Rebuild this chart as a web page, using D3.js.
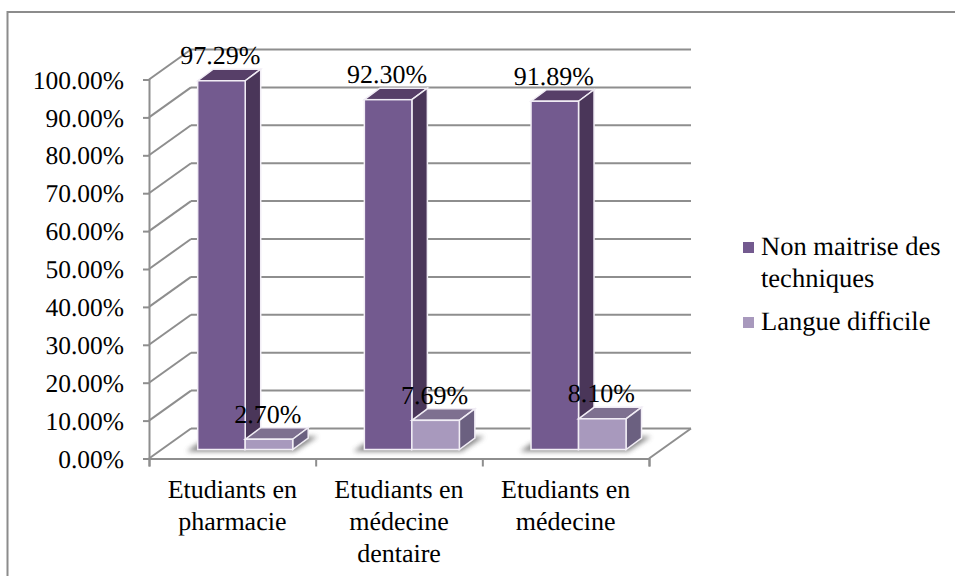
<!DOCTYPE html>
<html>
<head>
<style type="text/css">
html, body { margin: 0; padding: 0; background: #fff; }
svg { display: block; }
text { font-family: "Liberation Serif", serif; fill: #000; text-rendering: geometricPrecision; }
.tick-label { font-size: 25.5px; }
.cat-label { font-size: 26px; }
.val-label { font-size: 26px; }
.legend-label { font-size: 26.5px; }
.axisline { stroke: #8e8e8e; stroke-width: 2; fill: none; }
</style>
<script src="https://d3js.org/d3.v7.min.js"></script>
</head>
<body>
<script type="text/javascript">
var width = 955;
var height = 576;

var categories = [
	["Etudiants en", "pharmacie"],
	["Etudiants en", "médecine", "dentaire"],
	["Etudiants en", "médecine"]
];
var seriesNames = [["Non maitrise des", "techniques"], ["Langue difficile"]];
var nonMaitrise = [97.29, 92.30, 91.89];
var langueDifficile = [2.70, 7.69, 8.10];
var valueTicks = [0, 10, 20, 30, 40, 50, 60, 70, 80, 90, 100];

// colours of a bar: front, top, side
var shades = [
	{ front: "#735a8f", top: "#573f68", side: "#4a3659" },
	{ front: "#a899bd", top: "#7e7090", side: "#6b6080" }
];

// projection of the box
var wallDx = 42, wallDy = -30;
var barDx = 15.5, barDy = -11.5;
var baseShift = -9;

var x = d3.scaleBand().domain(d3.range(categories.length)).range([149, 649]);
var y = d3.scaleLinear().domain([0, 100]).range([458.5, 79.5]);
var barBase = y(0) + baseShift;

var svg = d3.select("body").append("svg").attr("width", width).attr("height", height);

var defs = svg.append("defs");
defs.append("filter").attr("id", "soft").attr("x", "-30%").attr("y", "-100%").attr("width", "160%").attr("height", "300%")
	.append("feGaussianBlur").attr("stdDeviation", 2.5);

// outer frame, only top and left edges show
svg.append("path").attr("d", "M7.5," + height + "V12H" + width)
	.attr("fill", "none").attr("stroke", "#8c8c8c").attr("stroke-width", 2);

// back wall gridlines and the diagonals on the side wall
valueTicks.forEach(function(v) {
	svg.append("line").attr("class", "axisline")
		.attr("x1", 149 + wallDx).attr("y1", y(v) + wallDy)
		.attr("x2", 649 + wallDx).attr("y2", y(v) + wallDy);
	svg.append("line").attr("class", "axisline")
		.attr("x1", 149).attr("y1", y(v))
		.attr("x2", 149 + wallDx).attr("y2", y(v) + wallDy);
});

// floor edge on the right
svg.append("line").attr("class", "axisline")
	.attr("x1", 649).attr("y1", y(0))
	.attr("x2", 649 + wallDx).attr("y2", y(0) + wallDy);

// value axis
var yAxis = d3.axisLeft(y).tickValues(valueTicks).tickSize(6).tickPadding(19)
	.tickFormat(function(d) { return d3.format(".2f")(d) + "%"; });
var yG = svg.append("g").attr("transform", "translate(149,0)").call(yAxis);
yG.attr("font-family", null).attr("font-size", null);
yG.select(".domain").attr("stroke", "#8e8e8e").attr("stroke-width", 2);
yG.selectAll(".tick line").attr("stroke", "#8e8e8e").attr("stroke-width", 2);
yG.selectAll(".tick text").attr("class", "tick-label").attr("dy", "0.34em");

// category axis, labels are wrapped by hand below
var xEdges = d3.axisBottom(d3.scaleLinear().domain([0, 3]).range([149, 649]))
	.tickValues([0, 1, 2, 3]).tickSize(8).tickFormat("");
var xG = svg.append("g").attr("transform", "translate(0," + y(0) + ")").call(xEdges);
xG.select(".domain").attr("stroke", "#8e8e8e").attr("stroke-width", 2);
xG.selectAll(".tick line").attr("stroke", "#8e8e8e").attr("stroke-width", 2);

categories.forEach(function(lines, i) {
	var t = svg.append("text").attr("class", "cat-label").attr("text-anchor", "middle")
		.attr("x", x(i) + x.bandwidth() / 2).attr("y", 498);
	lines.forEach(function(s, k) {
		t.append("tspan").attr("x", x(i) + x.bandwidth() / 2).attr("dy", k ? 32 : 0).text(s);
	});
});

var barW = 47.5;
var barInset = 48.7;

function pts(a) {
	return a.map(function(p) { return p.join(","); }).join(" ");
}

function drawBar(g, left, value, c) {
	var top = barBase - (y(0) - y(value));
	var right = left + barW;
	g.append("polygon").attr("points", pts([[left, top], [left + barDx, top + barDy], [right + barDx, top + barDy], [right, top]]))
		.attr("fill", c.top).attr("stroke", "#f1edf5").attr("stroke-width", 1.5);
	g.append("polygon").attr("points", pts([[right, top], [right + barDx, top + barDy], [right + barDx, barBase + barDy], [right, barBase]]))
		.attr("fill", c.side).attr("stroke", "#f1edf5").attr("stroke-width", 1.5);
	g.append("rect").attr("x", left).attr("y", top).attr("width", barW).attr("height", barBase - top)
		.attr("fill", c.front).attr("stroke", "#f1edf5").attr("stroke-width", 1.5);
}

categories.forEach(function(lines, i) {
	var left = x(i) + barInset;
	// soft shadow on the floor
	svg.append("polygon")
		.attr("points", pts([[left - 11, barBase + 2], [left + 2 * barW + 2, barBase + 2], [left + 2 * barW + 25, barBase - 13], [left + 2 * barW, barBase - 13], [left, barBase - 6]]))
		.attr("fill", "#555").attr("opacity", 0.7).attr("filter", "url(#soft)");
	var g = svg.append("g");
	drawBar(g, left, nonMaitrise[i], shades[0]);
	drawBar(g, left + barW, langueDifficile[i], shades[1]);
});

// value labels sit on top of everything
categories.forEach(function(lines, i) {
	[nonMaitrise, langueDifficile].forEach(function(vals, s) {
		var left = x(i) + barInset + s * barW;
		svg.append("text").attr("class", "val-label").attr("text-anchor", "middle")
			.attr("x", left + barW / 2 - 1)
			.attr("y", barBase - (y(0) - y(vals[i])) - 16.5)
			.text(d3.format(".2f")(vals[i]) + "%");
	});
});

// legend
var legendRows = [{ box: 242, base: 255 }, { box: 317, base: 330 }];
var legend = svg.append("g");
seriesNames.forEach(function(lines, s) {
	legend.append("rect").attr("x", 743).attr("y", legendRows[s].box).attr("width", 11).attr("height", 11).attr("fill", shades[s].front);
	lines.forEach(function(line, k) {
		legend.append("text").attr("class", "legend-label").attr("x", 761).attr("y", legendRows[s].base + k * 31.5).text(line);
	});
});
</script>
</body>
</html>
